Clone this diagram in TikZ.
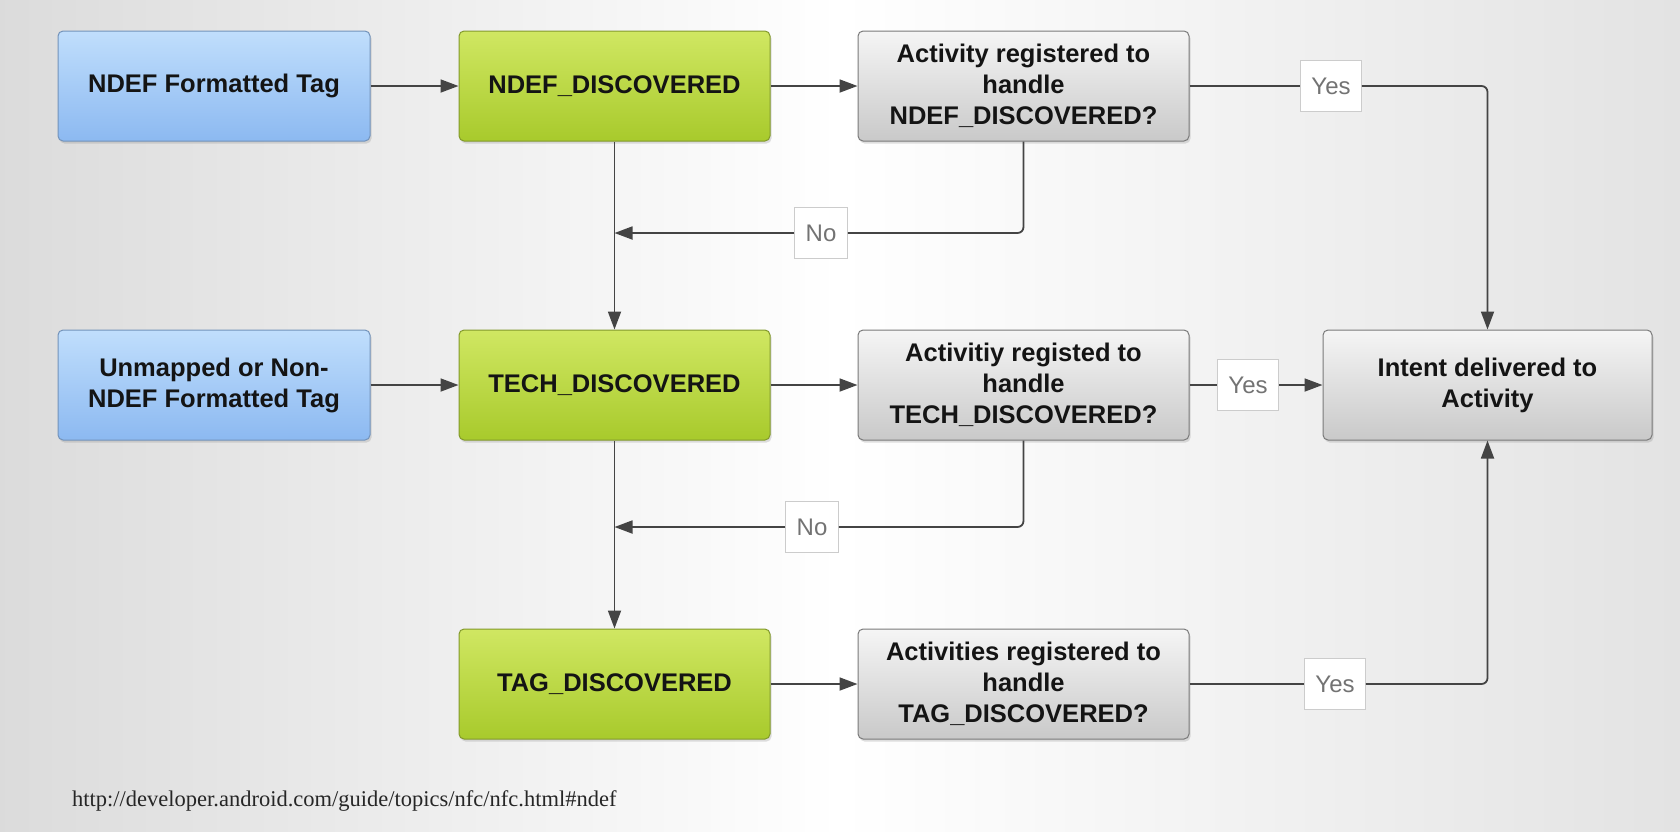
\documentclass[tikz,border=0pt]{standalone}
\usepackage{fontspec}
\setmainfont{Liberation Sans}
\newfontfamily\urlfont{Liberation Serif}
\usepackage{tikz}
\usetikzlibrary{arrows.meta,shadows}

\definecolor{tagtop}{HTML}{C0DEFC}
\definecolor{tagbot}{HTML}{8CB9F1}
\definecolor{tagline}{HTML}{7393BA}
\definecolor{disctop}{HTML}{D0E762}
\definecolor{discbot}{HTML}{A8CA2C}
\definecolor{discline}{HTML}{82992C}
\definecolor{asktop}{HTML}{F5F5F5}
\definecolor{askbot}{HTML}{C9C9C9}
\definecolor{askline}{HTML}{7A7A7A}
\definecolor{wirecol}{HTML}{444444}

\tikzset{
  box/.style={rounded corners=5pt, minimum height=110pt, align=center, inner sep=0pt,
    font=\fontsize{25.5}{31}\selectfont\bfseries, text=black!92, line width=1pt,
    drop shadow={opacity=0.25, shadow xshift=1.5pt, shadow yshift=-2.5pt}},
  tagbox/.style={box, draw=tagline, top color=tagtop, bottom color=tagbot, minimum width=312pt},
  discbox/.style={box, draw=discline, top color=disctop, bottom color=discbot, minimum width=311pt},
  askbox/.style={box, draw=askline, top color=asktop, bottom color=askbot, minimum width=331pt},
  answer/.style={draw=black!20, fill=white, text=black!55, line width=0.8pt,
    font=\fontsize{24}{28}\selectfont, inner xsep=11pt, inner ysep=0pt, minimum height=51pt},
  wire/.style={draw=wirecol, line width=1.8pt},
  arr/.style={wire, -{Triangle[length=18pt,width=13pt]}}
}

\begin{document}
\begin{tikzpicture}[x=1pt, y=-1pt]
  \useasboundingbox (0,0) rectangle (1680,831);
  \shade[left color=black!14, right color=black!11, middle color=white] (0,0) rectangle (1680,831);

  % tags
  \node[tagbox] (ndeftag) at (214,86) {NDEF Formatted Tag};
  \node[tagbox] (othertag) at (214,385) {Unmapped or Non-\\NDEF Formatted Tag};

  % discovered intents
  \node[discbox] (ndefdisc) at (614.5,86) {NDEF\_DISCOVERED};
  \node[discbox] (techdisc) at (614.5,385) {TECH\_DISCOVERED};
  \node[discbox] (tagdisc) at (614.5,684) {TAG\_DISCOVERED};

  % questions
  \node[askbox] (ndefask) at (1023.5,86) {Activity registered to\\handle\\NDEF\_DISCOVERED?};
  \node[askbox] (techask) at (1023.5,385) {Activitiy registed to\\handle\\TECH\_DISCOVERED?};
  \node[askbox] (tagask) at (1023.5,684) {Activities registered to\\handle\\TAG\_DISCOVERED?};

  \node[askbox, minimum width=329pt] (delivered) at (1487.5,385) {Intent delivered to\\Activity};

  % answers
  \foreach \n/\x/\y/\word in {
    yes1/1331/86/Yes,
    no1/821/233/No,
    yes2/1248/385/Yes,
    no2/812/527/No,
    yes3/1335/684/Yes
  } { \node[answer] (\n) at (\x,\y) {\word}; }

  \coordinate (ndefmerge) at (ndefdisc.south |- no1);
  \coordinate (techmerge) at (techdisc.south |- no2);

  % connections
  \foreach \a/\b in {
    ndeftag/ndefdisc,
    ndefdisc/ndefask,
    othertag/techdisc,
    techdisc/techask,
    tagdisc/tagask,
    yes2/delivered%
  } { \draw[arr] (\a.east) -- (\b.west); }

  \foreach \a/\b in {
    ndefdisc/techdisc,
    techdisc/tagdisc%
  } { \draw[arr] (\a.south) -- (\b.north); }

  \foreach \a/\b in {
    ndefask/yes1,
    techask/yes2,
    tagask/yes3%
  } { \draw[wire] (\a.east) -- (\b.west); }

  \draw[arr, rounded corners=6pt] (yes1.east) -| (delivered.north);
  \draw[arr, rounded corners=6pt] (yes3.east) -| (delivered.south);

  \draw[wire, rounded corners=6pt] (ndefask.south) |- (no1.east);
  \draw[arr] (no1.west) -- (ndefmerge);
  \draw[wire, rounded corners=6pt] (techask.south) |- (no2.east);
  \draw[arr] (no2.west) -- (techmerge);

  \node[anchor=west, inner sep=0pt, text=black!85, font=\urlfont\fontsize{22.5}{26}\selectfont]
    (source) at (72,801) {http://developer.android.com/guide/topics/nfc/nfc.html\#ndef};
\end{tikzpicture}
\end{document}
